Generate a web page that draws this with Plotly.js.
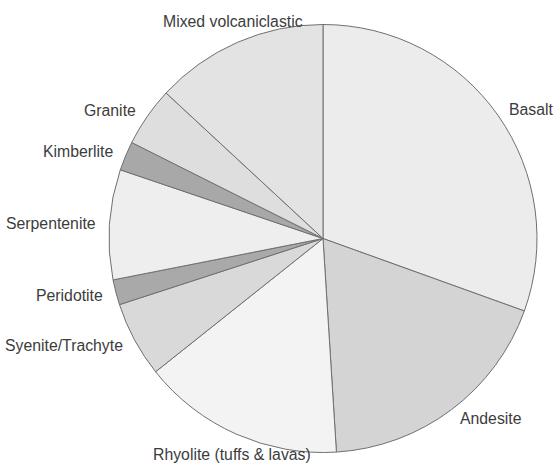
<!DOCTYPE html>
<html>
<head>
<meta charset="utf-8">
<script src="https://cdn.plot.ly/plotly-3.0.1.min.js"></script>
<style>html,body{margin:0;padding:0;background:#fff;}#chart{width:555px;height:465px;}</style>
</head>
<body>
<div id="chart"></div>
<script>
var categories = ["Basalt", "Andesite", "Rhyolite (tuffs & lavas)", "Syenite/Trachyte", "Peridotite", "Serpentenite", "Kimberlite", "Granite", "Mixed volcaniclastic"];
var values = [30.5, 18.5, 15.3, 5.7, 1.9, 8.3, 2.2, 4.5, 13.1];
var colors = ["#ececec", "#d4d4d4", "#f3f3f3", "#d9d9d9", "#a9a9a9", "#eeeeee", "#a8a8a8", "#dedede", "#e3e3e3"];

var W = 555, H = 465;
var cx = 323, cy = 238.5, R = 214;
var labelGap = 11;
var fontSpec = {family: "Liberation Sans, Arial, sans-serif", size: 15.8, color: "#3c3c3c"};

var trace = {
  type: "pie",
  labels: categories,
  values: values,
  sort: false,
  direction: "clockwise",
  rotation: 0,
  textinfo: "none",
  hoverinfo: "label+percent",
  marker: {colors: colors, line: {color: "#707070", width: 1}},
  domain: {x: [(cx - R) / W, (cx + R) / W], y: [(H - cy - R) / H, (H - cy + R) / H]}
};

// Labels placed just outside each slice at its mid-angle, derived from the values
var total = values.reduce(function (a, b) { return a + b; }, 0);
var annotations = [];
var cum = 0;
for (var i = 0; i < values.length; i++) {
  var mid = (cum + values[i] / 2) / total * 2 * Math.PI;
  cum += values[i];
  var s = Math.sin(mid), c = Math.cos(mid);
  var px = cx + (R + labelGap) * s;
  var py = cy - (R + labelGap) * c;
  var xa = Math.abs(s) < 0.45 ? "center" : (s > 0 ? "left" : "right");
  var ya = c > 0.9 ? "bottom" : (c < -0.9 ? "top" : "middle");
  annotations.push({
    text: categories[i],
    x: px / W, y: 1 - py / H, xref: "paper", yref: "paper",
    xanchor: xa, yanchor: ya, showarrow: false,
    font: fontSpec
  });
}

var layout = {
  width: W, height: H,
  margin: {l: 0, r: 0, t: 0, b: 0},
  paper_bgcolor: "#ffffff",
  showlegend: false,
  font: {family: "Liberation Sans, Arial, sans-serif"},
  annotations: annotations
};

Plotly.newPlot("chart", [trace], layout, {displayModeBar: false, staticPlot: true});
</script>
</body>
</html>
